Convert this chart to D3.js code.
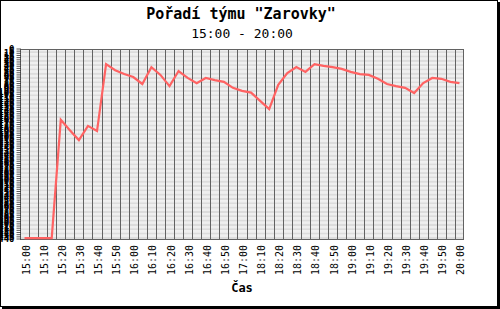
<!DOCTYPE html>
<html>
<head>
<meta charset="utf-8">
<script src="https://cdn.jsdelivr.net/npm/d3@7"></script>
<style>
  body { margin: 0; background: #fff; }
  svg { display: block; }
</style>
</head>
<body>
<div class="chart"></div>
<script>
var width = 500
var height = 309

// times on the x axis (there is a gap between 17:00 and 18:05)
var times = [
  '15:00','15:05','15:10','15:15','15:20','15:25','15:30','15:35','15:40','15:45',
  '15:50','15:55','16:00','16:05','16:10','16:15','16:20','16:25','16:30','16:35',
  '16:40','16:45','16:50','16:55','17:00','18:05','18:10','18:15','18:20','18:25',
  '18:30','18:35','18:40','18:45','18:50','18:55','19:00','19:05','19:10','19:15',
  '19:20','19:25','19:30','19:35','19:40','19:45','19:50','19:55','20:00'
]

// team rank at each time
var rank = [
  438, 438, 438, 438, 164, 188, 211, 178, 190, 35,
  49, 58, 65, 81, 42, 60, 86, 51, 67, 79,
  67, 72, 76, 90, 97, 101, 120, 139, 83, 56,
  42, 53, 35, 39, 42, 46, 53, 58, 60, 69,
  81, 86, 90, 102, 79, 67, 69, 76, 79
]

var yTicks = d3.range(0, 441, 5)

var plot = { left: 20, right: 464, top: 49, bottom: 239 }

var svg = d3.select('.chart')
  .append('svg')
  .attr('width', width)
  .attr('height', height)

svg.append('rect')
  .attr('width', width)
  .attr('height', height)
  .attr('fill', '#fff')

var x = d3.scaleBand()
  .domain(times)
  .range([plot.left, plot.right])

var y = d3.scaleLinear()
  .domain([0, 440])
  .range([plot.top, plot.bottom])

function cx(t) { return x(t) + x.bandwidth() / 2 }

// striped background
svg.append('g')
  .selectAll('rect')
  .data(yTicks.slice(0, -1))
  .enter()
  .append('rect')
  .attr('x', plot.left)
  .attr('width', plot.right - plot.left)
  .attr('y', function(d) { return y(d) })
  .attr('height', function(d) { return y(d + 5) - y(d) })
  .attr('fill', function(d, i) { return i % 2 ? '#dcdcdc' : '#efefef' })

// vertical grid
svg.append('g')
  .selectAll('line')
  .data(times.slice(1))
  .enter()
  .append('line')
  .attr('x1', function(d) { return Math.round(x(d)) + 0.5 })
  .attr('x2', function(d) { return Math.round(x(d)) + 0.5 })
  .attr('y1', plot.top)
  .attr('y2', plot.bottom)
  .attr('stroke', '#626262')

// plot frame
svg.append('rect')
  .attr('x', plot.left + 0.5)
  .attr('y', plot.top + 0.5)
  .attr('width', plot.right - plot.left - 1)
  .attr('height', plot.bottom - plot.top)
  .attr('fill', 'none')
  .attr('stroke', '#626262')

// y ticks + labels (crammed, as in the original)
var yAxis = svg.append('g')
yAxis.selectAll('line')
  .data(yTicks)
  .enter()
  .append('line')
  .attr('x1', 16.5)
  .attr('x2', plot.left + 1)
  .attr('y1', function(d) { return y(d) })
  .attr('y2', function(d) { return y(d) })
  .attr('stroke', '#333')
  .attr('stroke-width', 0.8)
yAxis.selectAll('text')
  .data(yTicks)
  .enter()
  .append('text')
  .attr('x', 14.5)
  .attr('y', function(d) { return y(d) })
  .attr('dy', '0.35em')
  .attr('text-anchor', 'end')
  .attr('font-family', 'DejaVu Sans Mono')
  .attr('font-weight', 'bold')
  .attr('font-size', 9)
  .attr('fill', '#000')
  .text(function(d) { return d })

// x labels
svg.append('g')
  .selectAll('text')
  .data(times.filter(function(d, i) { return i % 2 === 0 }))
  .enter()
  .append('text')
  .attr('transform', function(d) { return 'translate(' + (cx(d) + 5) + ',245)rotate(-90)' })
  .attr('text-anchor', 'end')
  .attr('font-family', 'DejaVu Sans Mono')
  .attr('font-size', 10)
  .attr('fill', '#000')
  .text(function(d) { return d })

// the line
var line = d3.line()
  .x(function(d, i) { return cx(times[i]) })
  .y(function(d) { return y(d) })

svg.append('path')
  .datum(rank)
  .attr('d', line)
  .attr('fill', 'none')
  .attr('stroke', '#ff6262')
  .attr('stroke-width', 2.2)

// titles
svg.append('text')
  .attr('x', 241)
  .attr('y', 18.5)
  .attr('text-anchor', 'middle')
  .attr('font-family', 'DejaVu Sans Mono')
  .attr('font-weight', 'bold')
  .attr('font-size', 15)
  .text('Pořadí týmu "Zarovky"')

svg.append('text')
  .attr('x', 242)
  .attr('y', 37.5)
  .attr('text-anchor', 'middle')
  .attr('font-family', 'DejaVu Sans Mono')
  .attr('font-size', 13)
  .text('15:00 - 20:00')

svg.append('text')
  .attr('x', 242)
  .attr('y', 292)
  .attr('text-anchor', 'middle')
  .attr('font-family', 'DejaVu Sans Mono')
  .attr('font-weight', 'bold')
  .attr('font-size', 12)
  .text('Čas')

// outer frame with shadow
svg.append('rect')
  .attr('x', 0.5)
  .attr('y', 0.5)
  .attr('width', width - 3)
  .attr('height', height - 3)
  .attr('fill', 'none')
  .attr('stroke', '#000')
svg.append('rect')
  .attr('x', width - 2)
  .attr('y', 2)
  .attr('width', 2)
  .attr('height', height - 2)
  .attr('fill', '#000')
svg.append('rect')
  .attr('x', 2)
  .attr('y', height - 2)
  .attr('width', width - 2)
  .attr('height', 2)
  .attr('fill', '#000')
</script>
</body>
</html>
